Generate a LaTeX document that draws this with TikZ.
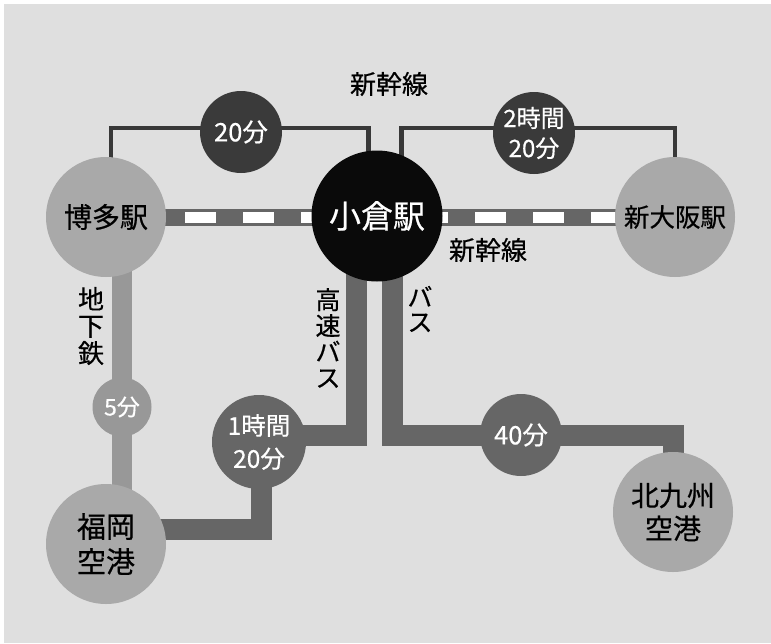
\documentclass[tikz,border=0pt]{standalone}
\usepackage{fontspec}
\newfontfamily\jp[FakeBold=0.5]{Noto Sans CJK JP}
\usetikzlibrary{backgrounds}
\definecolor{bgc}{HTML}{DFDFDF}
\definecolor{stationc}{HTML}{A9A9A9}
\definecolor{routec}{HTML}{666666}
\definecolor{darkc}{HTML}{3A3A3A}
\definecolor{subwayc}{HTML}{989898}
\definecolor{thinc}{HTML}{383838}
\definecolor{hubc}{HTML}{0A0A0A}
\newcommand{\jfs}[2]{\jp\fontsize{#1}{#2}\selectfont}
\begin{document}
\begin{tikzpicture}[x=1pt,y=-1pt,
  stationnode/.style={circle, fill=stationc, minimum size=120pt, inner sep=0pt, align=center, text=black},
  hubnode/.style={circle, fill=hubc, minimum size=131pt, inner sep=0pt, text=white, font=\jfs{32}{36}},
  timenode/.style={circle, inner sep=0pt, align=center, text=white},
  labelnode/.style={inner sep=0pt, align=center, text=black},
  thinline/.style={draw=thinc, line width=4.5pt},
  routeline/.style={draw=routec, line width=21pt},
  subwayline/.style={draw=subwayc, line width=20pt}]
\useasboundingbox (0,0) rectangle (771,643);

% stations
\node[stationnode, font=\jfs{28}{34}] (hakata) at (106,217) {博多駅};
\node[hubnode] (kokura) at (377,216) {小倉駅};
\node[stationnode, font=\jfs{25.5}{30}] (osaka) at (675,217) {新大阪駅};
\node[stationnode, font=\jfs{29}{35}] (fukuoka) at (106,544) {福岡\\空港};
\node[stationnode, font=\jfs{28}{33}] (kita) at (673,512) {北九州\\空港};

% time circles
\node[timenode, fill=darkc, minimum size=82pt, font=\jfs{25.5}{28}] (t20) at (241,132) {20分};
\node[timenode, fill=darkc, minimum size=82pt, font=\jfs{24}{30}] (t220) at (534,133) {2時間\\20分};
\node[timenode, fill=subwayc, minimum size=59pt, font=\jfs{23}{24}] (t5) at (122,407) {5分};
\node[timenode, fill=routec, minimum size=94pt, font=\jfs{24.5}{33}] (t120) at (259,442) {1時間\\20分};
\node[timenode, fill=routec, minimum size=82pt, font=\jfs{25.5}{28}] (t40) at (521,435) {40分};

% labels
\node[labelnode, font=\jfs{26}{30}] (lshin1) at (389,84) {新幹線};
\node[labelnode, font=\jfs{26}{30}] (lshin2) at (488,250) {新幹線};
\node[labelnode, font=\jfs{26}{27}] (lsub) at (91,326) {地\\下\\鉄};
\node[labelnode, font=\jfs{25}{26}] (lhwy) at (328,338) {高\\速\\バ\\ス};
\node[labelnode, font=\jfs{25}{25}] (lbus) at (420,309) {バ\\ス};

\begin{pgfonlayer}{background}
  \fill[white] (0,0) rectangle (771,643);
  \fill[bgc] (4,4) rectangle (771,643);
  % thin shinkansen routes
  \draw[thinline] ([xshift=5pt]hakata.center) |- ([yshift=4pt]t20.center) -| ([xshift=-8.5pt]kokura.center);
  \draw[thinline] ([xshift=24.5pt]kokura.center) |- ([yshift=5pt]t220.center) -| (osaka.center);
  % thick dashed shinkansen
  \draw[draw=routec, line width=17pt] (hakata.center) -- (osaka.center);
  \draw[draw=white, line width=11pt, dash pattern=on 31pt off 27pt, dash phase=37pt] (hakata.center) -- (osaka.center);
  % subway
  \draw[subwayline] ([xshift=16pt]hakata.center) -- ([xshift=16pt]fukuoka.center);
  % highway bus
  \draw[routeline] ([xshift=-21pt]kokura.center) |- ([yshift=7pt]t120.center);
  \draw[routeline] ([xshift=2pt]t120.center) |- ([yshift=15pt]fukuoka.center);
  % bus
  \draw[routeline] ([xshift=15.5pt]kokura.center) |- (t40.center) -| (kita.center);
\end{pgfonlayer}
\end{tikzpicture}
\end{document}
